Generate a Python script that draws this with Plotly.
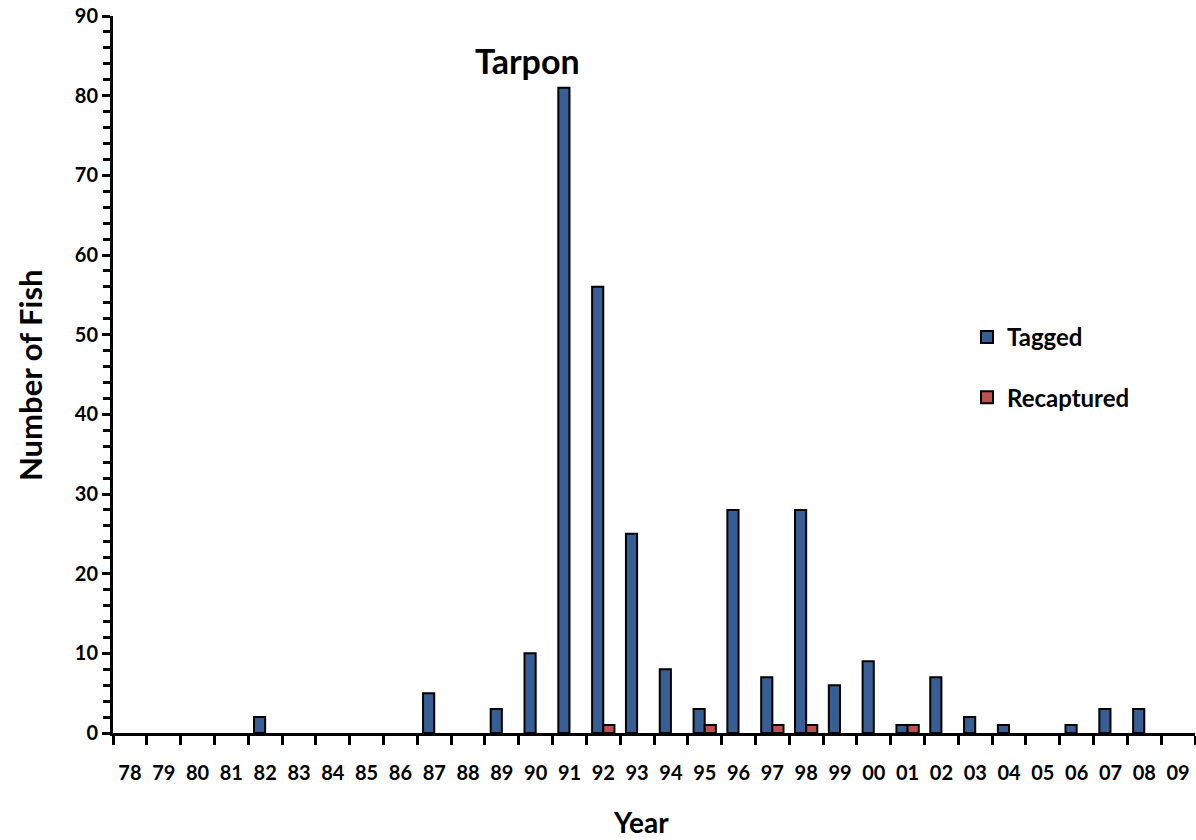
import plotly.graph_objects as go

years = ["78","79","80","81","82","83","84","85","86","87","88","89","90","91","92","93",
         "94","95","96","97","98","99","00","01","02","03","04","05","06","07","08","09"]
tagged = [0,0,0,0,2,0,0,0,0,5,0,3,10,81,56,25,8,3,28,7,28,6,9,1,7,2,1,0,1,3,3,0]
recaptured = [0,0,0,0,0,0,0,0,0,0,0,0,0,0,1,0,0,1,0,1,1,0,0,1,0,0,0,0,0,0,0,0]

def nz(v):
    return [x if x else None for x in v]

FONT = "Lato"
L, R, T, B = 113, 1, 16, 107
W, H = 1196, 840
pw, ph = W - L - R, H - T - B

def px(x):
    return (x - L) / pw

def py(y):
    return (H - B - y) / ph

fig = go.Figure()
fig.add_trace(go.Bar(x=years, y=nz(tagged), name="Tagged",
                     marker=dict(color="#385F95", line=dict(color="black", width=2)),
                     legendgroup="a"))
fig.add_trace(go.Bar(x=years, y=nz(recaptured), name="Recaptured",
                     marker=dict(color="#C0504D", line=dict(color="black", width=2)),
                     legendgroup="b"))

fig.update_layout(
    width=W, height=H,
    margin=dict(l=L, r=R, t=T, b=B, autoexpand=False),
    paper_bgcolor="white", plot_bgcolor="white",
    barmode="group", bargap=0.34, bargroupgap=0,
    font=dict(family=FONT, size=20, color="black"),
    showlegend=True,
    legend=dict(x=px(967), y=py(315), xanchor="left", yanchor="top",
                font=dict(family=FONT, size=24, color="black", weight="bold"),
                tracegroupgap=26, bgcolor="rgba(0,0,0,0)"),
    annotations=[
        dict(text="<b>Tarpon</b>", x=px(527), y=py(60), xref="paper", yref="paper",
             showarrow=False, font=dict(family=FONT, size=34, color="black"),
             xanchor="center", yanchor="middle"),
        dict(text="<b>Number of Fish</b>", x=px(30), y=py(375), xref="paper", yref="paper",
             showarrow=False, textangle=-90, font=dict(family=FONT, size=31, color="black"),
             xanchor="center", yanchor="middle"),
        dict(text="<b>Year</b>", x=px(641), y=py(822), xref="paper", yref="paper",
             showarrow=False, font=dict(family=FONT, size=28, color="black"),
             xanchor="center", yanchor="middle"),
    ],
)

fig.update_xaxes(type="category", showline=True, linecolor="black", linewidth=3,
                 ticks="outside", tickson="boundaries", ticklen=9, tickwidth=3,
                 tickcolor="black", showgrid=False, automargin=False, tickangle=0,
                 ticklabelstandoff=20,
                 tickfont=dict(family=FONT, size=20, color="black", weight="bold"))
fig.update_yaxes(range=[0, 90], dtick=10, showline=True, linecolor="black", linewidth=3,
                 ticks="outside", ticklen=8, tickwidth=3, tickcolor="black",
                 showgrid=False, zeroline=False, automargin=False,
                 minor=dict(dtick=2, ticks="outside", ticklen=7, tickwidth=3, tickcolor="black"),
                 tickfont=dict(family=FONT, size=20, color="black", weight="bold"))

fig.write_html("out.html", config={"displayModeBar": False},
               post_script="document.body.style.margin='0px';document.body.style.overflow='hidden';")
